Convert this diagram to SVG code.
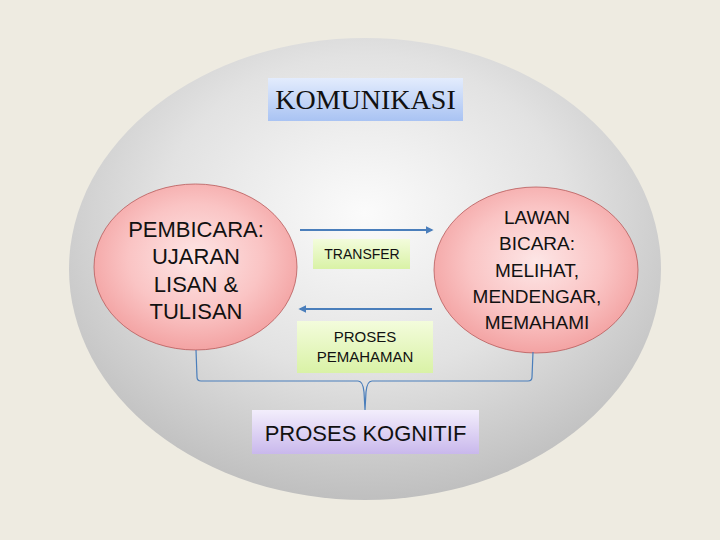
<svg xmlns="http://www.w3.org/2000/svg" width="720" height="540" viewBox="0 0 720 540">
<defs>
<radialGradient id="gBig" cx="50%" cy="38%" r="62%">
<stop offset="0" stop-color="#fbfbfb"/>
<stop offset="0.55" stop-color="#e2e2e2"/>
<stop offset="1" stop-color="#bfbfbf"/>
</radialGradient>
<radialGradient id="gPink" cx="50%" cy="45%" r="55%">
<stop offset="0" stop-color="#fde6e6"/>
<stop offset="0.6" stop-color="#fac4c4"/>
<stop offset="1" stop-color="#f3a3a3"/>
</radialGradient>
<linearGradient id="gBlue" x1="0" y1="0" x2="0" y2="1">
<stop offset="0" stop-color="#e3ecfd"/>
<stop offset="1" stop-color="#a9c3f3"/>
</linearGradient>
<linearGradient id="gGreen" x1="0" y1="0" x2="0" y2="1">
<stop offset="0" stop-color="#f3fcdc"/>
<stop offset="1" stop-color="#d9f2a6"/>
</linearGradient>
<linearGradient id="gPurple" x1="0" y1="0" x2="0" y2="1">
<stop offset="0" stop-color="#f3eefc"/>
<stop offset="1" stop-color="#c9b8ec"/>
</linearGradient>
<marker id="arr" viewBox="0 0 10 10" refX="8" refY="5" markerWidth="4" markerHeight="4" orient="auto-start-reverse">
<path d="M0,0 L10,5 L0,10 z" fill="#4a7ebb"/>
</marker>
</defs>
<style>
.sans{font-family:"Liberation Sans",Arial,sans-serif;fill:#111;text-anchor:middle}
.serif{font-family:"Liberation Serif","Times New Roman",serif;fill:#111;text-anchor:middle}
.pink{fill:url(#gPink);stroke:#b85a5a;stroke-width:0.8}
.conn{fill:none;stroke:#4a7ebb}
</style>
<rect width="720" height="540" fill="#eeebe1"/>
<g id="komunikasi-circle">
<ellipse cx="365" cy="269" rx="296" ry="231" fill="url(#gBig)"/>
</g>
<g id="komunikasi">
<rect x="268" y="78" width="195" height="43" fill="url(#gBlue)"/>
<text class="serif" x="365.5" y="109" font-size="28">KOMUNIKASI</text>
</g>
<g id="pembicara">
<ellipse class="pink" cx="195.5" cy="267" rx="101.5" ry="83"/>
<text class="sans" x="196" y="237" font-size="22">PEMBICARA:</text>
<text class="sans" x="196" y="264" font-size="22">UJARAN</text>
<text class="sans" x="196" y="292" font-size="22">LISAN &amp;</text>
<text class="sans" x="196" y="319" font-size="22">TULISAN</text>
</g>
<g id="lawan-bicara">
<ellipse class="pink" cx="536" cy="270" rx="102" ry="83"/>
<text class="sans" x="537" y="224" font-size="19">LAWAN</text>
<text class="sans" x="537" y="250" font-size="19">BICARA:</text>
<text class="sans" x="537" y="277" font-size="19">MELIHAT,</text>
<text class="sans" x="537" y="303" font-size="19">MENDENGAR,</text>
<text class="sans" x="537" y="329" font-size="19">MEMAHAMI</text>
</g>
<g id="transfer">
<rect x="313" y="239" width="97" height="30" fill="url(#gGreen)"/>
<text class="sans" x="362" y="259" font-size="14">TRANSFER</text>
</g>
<g id="proses-pemahaman">
<rect x="297" y="321" width="136" height="52" fill="url(#gGreen)"/>
<text class="sans" x="365" y="342" font-size="15">PROSES</text>
<text class="sans" x="365" y="362" font-size="15">PEMAHAMAN</text>
</g>
<g id="proses-kognitif">
<rect x="252" y="410" width="227" height="44" fill="url(#gPurple)"/>
<text class="sans" x="365.5" y="441" font-size="22">PROSES KOGNITIF</text>
</g>
<g id="connectors">
<line class="conn" x1="300" y1="230" x2="432" y2="230" stroke-width="2" marker-end="url(#arr)"/>
<line class="conn" x1="432" y1="309" x2="300" y2="309" stroke-width="2" marker-end="url(#arr)"/>
<path class="conn" stroke-width="1.2" d="M196,350 L197,377 Q197,381 201,381 L358,381 Q363,381 364,392 L365,410 M533,352 L532,377 Q532,381 528,381 L372,381 Q367,381 366,392 L365,410"/>
</g>
</svg>
